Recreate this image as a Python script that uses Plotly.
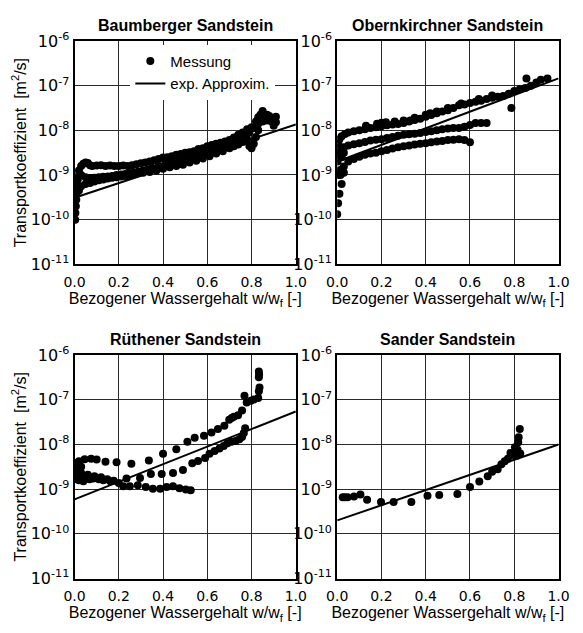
import plotly.graph_objects as go

# ---- Baumberger Sandstein: measured transport coefficients ----
baum_w = [0.000, 0.000, 0.002, 0.003, 0.004, 0.005, 0.006, 0.008, 0.010, 0.012, 0.015,
          # upper branch
          0.005, 0.01, 0.02, 0.03, 0.04, 0.05, 0.06, 0.07, 0.08, 0.10, 0.12, 0.14, 0.16, 0.18,
          0.20, 0.22, 0.24, 0.26, 0.28, 0.30, 0.32, 0.34, 0.36, 0.38, 0.40, 0.42, 0.44, 0.46,
          0.48, 0.50, 0.52, 0.54, 0.56, 0.58, 0.60, 0.62, 0.64, 0.66, 0.68, 0.70, 0.72, 0.74,
          0.76, 0.78, 0.80, 0.82, 0.83, 0.84, 0.85, 0.86, 0.87, 0.88, 0.89, 0.90, 0.91, 0.91,
          # middle branch
          0.03, 0.05, 0.07, 0.09, 0.11, 0.13, 0.15, 0.17, 0.19, 0.21, 0.23, 0.25, 0.27, 0.29,
          0.31, 0.33, 0.35, 0.38, 0.41, 0.44, 0.47, 0.50, 0.53, 0.56, 0.59, 0.62, 0.65, 0.68,
          0.71, 0.74, 0.77, 0.79, 0.81, 0.83, 0.85, 0.87, 0.89, 0.90,
          # lower branch
          0.02, 0.03, 0.05, 0.07, 0.09, 0.11, 0.13, 0.15, 0.17, 0.19, 0.21, 0.23, 0.25, 0.27,
          0.29, 0.31, 0.34, 0.37, 0.40, 0.43, 0.46, 0.49, 0.52, 0.55, 0.58, 0.61, 0.64, 0.67,
          0.70, 0.72, 0.74, 0.76, 0.78, 0.79, 0.80, 0.81, 0.82, 0.83]
baum_d = [6.3e-10, 5.6e-10, 4.5e-10, 1.0e-10, 1.41e-10, 8.9e-10, 2.0e-10, 2.8e-10, 4.0e-10, 5.6e-10, 7.9e-10,
          5.0e-10, 7.9e-10, 1.26e-9, 1.58e-9, 1.78e-9, 1.9e-9, 1.86e-9, 1.66e-9, 1.58e-9, 1.62e-9, 1.66e-9, 1.58e-9, 1.62e-9, 1.58e-9,
          1.58e-9, 1.62e-9, 1.58e-9, 1.66e-9, 1.74e-9, 1.82e-9, 1.9e-9, 2.0e-9, 2.14e-9, 2.29e-9, 2.45e-9, 2.5e-9, 2.63e-9, 2.82e-9,
          2.95e-9, 3.16e-9, 3.24e-9, 3.39e-9, 3.8e-9, 3.98e-9, 4.37e-9, 4.68e-9, 5.0e-9, 5.25e-9, 5.62e-9, 6.03e-9, 6.92e-9, 7.94e-9,
          8.91e-9, 1.05e-8, 1.17e-8, 1.58e-8, 1.95e-8, 2.24e-8, 2.69e-8, 2.09e-8, 2.24e-8, 2.09e-8, 1.91e-8, 1.78e-8, 2.0e-8, 1.51e-8,
          1.0e-9, 8.9e-10, 8.5e-10, 8.7e-10, 8.9e-10, 9.1e-10, 9.3e-10, 9.5e-10, 1.0e-9, 1.02e-9, 1.05e-9, 1.1e-9, 1.15e-9, 1.2e-9,
          1.26e-9, 1.32e-9, 1.45e-9, 1.58e-9, 1.78e-9, 1.95e-9, 2.09e-9, 2.29e-9, 2.51e-9, 2.82e-9, 3.16e-9, 3.55e-9, 4.17e-9, 4.68e-9,
          5.37e-9, 6.31e-9, 7.94e-9, 8.91e-9, 1.12e-8, 1.41e-8, 1.58e-8, 1.66e-8, 1.58e-8, 1.26e-8,
          4.5e-10, 5.6e-10, 6.3e-10, 6.6e-10, 7.1e-10, 7.6e-10, 7.9e-10, 8.3e-10, 8.7e-10, 8.9e-10, 9.3e-10, 9.5e-10, 1.0e-9, 1.05e-9,
          1.1e-9, 1.12e-9, 1.17e-9, 1.26e-9, 1.38e-9, 1.48e-9, 1.58e-9, 1.7e-9, 1.91e-9, 2.09e-9, 2.34e-9, 2.63e-9, 3.02e-9, 3.39e-9,
          3.98e-9, 4.37e-9, 4.79e-9, 5.5e-9, 6.31e-9, 4.47e-9, 3.98e-9, 5.0e-9, 7.08e-9, 1.0e-8]
baum_fit_w = [0.0, 1.0]
baum_fit_d = [3.1e-10, 1.35e-8]

# ---- Obernkirchner Sandstein ----
obern_w = [0.000, 0.004, 0.010, 0.020, 0.005, 0.003, 0.002, 0.004, 0.006, 0.015, 0.03, 0.02, 0.03,
           # upper branch
           0.005, 0.01, 0.02, 0.035, 0.05, 0.075, 0.10, 0.125, 0.15, 0.175, 0.20, 0.225, 0.25, 0.275,
           0.30, 0.325, 0.35, 0.375, 0.40, 0.425, 0.45, 0.475, 0.50, 0.525, 0.55, 0.575, 0.60, 0.625,
           0.65, 0.675, 0.70, 0.725, 0.75, 0.775, 0.787, 0.80, 0.825, 0.85, 0.855, 0.875, 0.90, 0.92, 0.95,
           0.20, 0.26, 0.33, 0.40, 0.45,
           0.13, 0.18, 0.22, 0.30, 0.35, 0.42, 0.50, 0.56, 0.64, 0.70,
           # middle branch
           0.01, 0.03, 0.05, 0.075, 0.10, 0.125, 0.15, 0.175, 0.20, 0.225, 0.25, 0.275, 0.30, 0.325,
           0.35, 0.375, 0.40, 0.425, 0.45, 0.475, 0.50, 0.525, 0.55, 0.575, 0.60, 0.625, 0.65, 0.675,
           # lower branch
           0.01, 0.02, 0.03, 0.05, 0.075, 0.10, 0.125, 0.15, 0.175, 0.20, 0.225, 0.25, 0.275, 0.30,
           0.325, 0.35, 0.375, 0.40, 0.425, 0.45, 0.475, 0.50, 0.525, 0.55, 0.575, 0.60]
obern_d = [1.32e-10, 2.34e-10, 3.8e-10, 6.3e-10, 1.0e-9, 1.26e-9, 2.0e-9, 3.16e-9, 3.98e-9, 1.0e-9, 1.12e-9, 2.5e-9, 3.16e-9,
           5.0e-9, 6.3e-9, 7.4e-9, 8.3e-9, 8.9e-9, 9.5e-9, 1.0e-8, 1.05e-8, 1.12e-8, 1.17e-8, 1.23e-8, 1.29e-8, 1.35e-8, 1.38e-8,
           1.45e-8, 1.58e-8, 1.7e-8, 1.82e-8, 2.0e-8, 2.19e-8, 2.4e-8, 2.63e-8, 2.82e-8, 3.16e-8, 3.63e-8, 3.8e-8, 4.07e-8, 4.37e-8,
           4.57e-8, 5.0e-8, 5.37e-8, 5.62e-8, 5.89e-8, 6.61e-8, 3.16e-8, 7.59e-8, 8.3e-8, 8.91e-8, 1.45e-7, 1.0e-7, 1.17e-7, 1.35e-7, 1.45e-7,
           1.48e-8, 1.58e-8, 1.66e-8, 2.24e-8, 2.63e-8,
           1.26e-8, 1.41e-8, 1.51e-8, 1.66e-8, 1.91e-8, 2.4e-8, 3.16e-8, 4.0e-8, 5.0e-8, 6.0e-8,
           2.82e-9, 4.17e-9, 4.57e-9, 4.9e-9, 5.13e-9, 5.5e-9, 5.89e-9, 6.17e-9, 6.31e-9, 6.76e-9, 7.08e-9, 7.59e-9, 7.94e-9, 8.13e-9,
           8.32e-9, 8.71e-9, 9.12e-9, 9.55e-9, 1.0e-8, 1.05e-8, 1.1e-8, 1.12e-8, 1.12e-8, 1.2e-8, 1.32e-8, 1.45e-8, 1.45e-8, 1.45e-8,
           1.12e-9, 1.32e-9, 1.55e-9, 2.0e-9, 2.29e-9, 2.57e-9, 2.82e-9, 3.02e-9, 3.16e-9, 3.39e-9, 3.63e-9, 3.89e-9, 4.17e-9, 4.37e-9,
           4.57e-9, 4.79e-9, 5.0e-9, 5.13e-9, 5.37e-9, 5.62e-9, 5.75e-9, 6.03e-9, 6.17e-9, 6.31e-9, 6.03e-9, 5.37e-9]
obern_fit_w = [0.0, 1.0]
obern_fit_d = [2.0e-9, 1.45e-7]

# ---- Rüthener Sandstein ----
rueth_w = [  # upper branch
           0.003, 0.02, 0.046, 0.075, 0.10, 0.14, 0.19, 0.257, 0.336, 0.40, 0.46, 0.51, 0.543, 0.585,
           0.619, 0.648, 0.677, 0.699, 0.71, 0.72, 0.739, 0.757, 0.768, 0.778, 0.797, 0.81, 0.83, 0.833,
           0.836, 0.833, 0.833, 0.834,
           # middle branch
           0.003, 0.03, 0.06, 0.09, 0.12, 0.148, 0.177, 0.20, 0.235, 0.296, 0.345, 0.394, 0.445, 0.49,
           0.532, 0.558, 0.59, 0.61, 0.633, 0.655, 0.674, 0.691, 0.709, 0.728, 0.745, 0.757, 0.765, 0.771,
           # lower branch
           0.01, 0.04, 0.068, 0.162, 0.22, 0.25, 0.286, 0.322, 0.354, 0.387, 0.416, 0.445, 0.474, 0.503, 0.525,
           # dense start region
           0.005, 0.01, 0.015, 0.02, 0.008, 0.03, 0.045, 0.085, 0.11, 0.13]
rueth_d = [3.8e-9, 4.2e-9, 4.7e-9, 4.8e-9, 4.6e-9, 4.1e-9, 4.0e-9, 3.7e-9, 4.4e-9, 6.2e-9, 7.8e-9, 1.15e-8, 1.41e-8, 1.58e-8,
           1.86e-8, 2.24e-8, 2.63e-8, 3.6e-8, 3.9e-8, 4.2e-8, 4.5e-8, 5.8e-8, 1.23e-7, 8.7e-8, 9.5e-8, 1.02e-7, 1.1e-7, 1.55e-7,
           1.9e-7, 3.2e-7, 4.3e-7, 3.7e-7,
           1.78e-9, 2.3e-9, 2.1e-9, 1.95e-9, 1.86e-9, 1.66e-9, 1.55e-9, 1.38e-9, 1.74e-9, 1.78e-9, 2.2e-9, 2.2e-9, 2.3e-9, 2.7e-9,
           3.8e-9, 4.3e-9, 5.0e-9, 6.2e-9, 7.2e-9, 8.1e-9, 9.3e-9, 1.07e-8, 1.15e-8, 1.2e-8, 1.32e-8, 1.48e-8, 1.82e-8, 2.3e-8,
           1.66e-9, 1.51e-9, 1.66e-9, 1.51e-9, 1.17e-9, 1.17e-9, 1.23e-9, 1.12e-9, 1.02e-9, 1.02e-9, 1.12e-9, 1.17e-9, 1.05e-9, 9.8e-10, 9.5e-10,
           2.8e-9, 2.5e-9, 2.0e-9, 1.58e-9, 3.3e-9, 3.2e-9, 1.9e-9, 1.74e-9, 1.66e-9, 1.58e-9]
rueth_fit_w = [0.0, 1.0]
rueth_fit_d = [5.9e-10, 5.5e-8]

# ---- Sander Sandstein ----
sander_w = [0.025, 0.035, 0.047, 0.076, 0.105, 0.135, 0.198, 0.255, 0.335, 0.408, 0.461, 0.543, 0.600,
            0.642, 0.680, 0.700, 0.725, 0.742, 0.757, 0.771, 0.783, 0.795, 0.803, 0.808, 0.812, 0.815,
            0.818, 0.820, 0.825, 0.827]
sander_d = [6.6e-10, 6.6e-10, 6.6e-10, 6.9e-10, 7.6e-10, 5.8e-10, 5.2e-10, 5.2e-10, 5.2e-10, 7.1e-10, 7.4e-10, 7.8e-10, 1.12e-9,
            1.48e-9, 1.95e-9, 2.45e-9, 2.8e-9, 3.6e-9, 4.2e-9, 4.8e-9, 6.5e-9, 5.8e-9, 8.7e-9, 6.3e-9, 5.6e-9, 7.6e-9,
            1.12e-8, 1.45e-8, 2.24e-8, 6.3e-9]
sander_fit_w = [0.0, 1.0]
sander_fit_d = [2.0e-10, 1.0e-8]

panel_titles = ["Baumberger Sandstein", "Obernkirchner Sandstein",
                "Rüthener Sandstein", "Sander Sandstein"]
y_tickvals = [1e-11, 1e-10, 1e-9, 1e-8, 1e-7, 1e-6]
y_ticktext = ["10<sup>-11</sup>", "10<sup>-10</sup>", "10<sup>-9</sup>",
              "10<sup>-8</sup>", "10<sup>-7</sup>", "10<sup>-6</sup>"]
x_tickvals = [0.0, 0.2, 0.4, 0.6, 0.8, 1.0]
x_ticktext = ["0.0", "0.2", "0.4", "0.6", "0.8", "1.0"]

FONT = "Liberation Sans, Arial, Helvetica, sans-serif"
TICKFONT = "DejaVu Sans, Verdana, sans-serif"
W, H = 583, 633

# panel frames in pixels (left, right, top, bottom)
frames = [(66, 296, 31, 262), (339, 569, 31, 262),
          (66, 296, 356, 587), (339, 569, 356, 587)]

datasets = [(baum_w, baum_d, baum_fit_w, baum_fit_d),
            (obern_w, obern_d, obern_fit_w, obern_fit_d),
            (rueth_w, rueth_d, rueth_fit_w, rueth_fit_d),
            (sander_w, sander_d, sander_fit_w, sander_fit_d)]

fig = go.Figure()
layout = dict(
    width=W, height=H, autosize=False,
    margin=dict(l=0, r=0, t=0, b=0),
    paper_bgcolor="white", plot_bgcolor="white",
    font=dict(family=FONT, size=14, color="black"),
    showlegend=True,
    legend=dict(x=124 / W, y=1 - 35 / H, xanchor="left", yanchor="top",
                bgcolor="white", borderwidth=0, font=dict(size=15),
                tracegroupgap=0, itemwidth=30),
)

annotations = []
for i, ((l, r, t, b), (mw, md, fw, fd)) in enumerate(zip(frames, datasets)):
    n = "" if i == 0 else str(i + 1)
    xa, ya = "x" + n, "y" + n
    fig.add_trace(go.Scatter(
        x=mw, y=md, mode="markers", name="Messung", xaxis=xa, yaxis=ya,
        marker=dict(color="black", size=8, line=dict(width=0)),
        showlegend=(i == 0)))
    fig.add_trace(go.Scatter(
        x=fw, y=fd, mode="lines", name="exp. Approxim.", xaxis=xa, yaxis=ya,
        line=dict(color="black", width=2), showlegend=(i == 0)))

    axis_common = dict(showline=True, mirror=True, linecolor="black", linewidth=2,
                       showgrid=True, gridcolor="#2a2a2a", gridwidth=1,
                       zeroline=False, ticks="")
    layout["xaxis" + n] = dict(
        axis_common, domain=[l / W, r / W], anchor=ya, range=[0, 1],
        tickvals=x_tickvals, ticktext=x_ticktext, ticklabelstandoff=4,
        tickfont=dict(size=14, family=TICKFONT),
        title=dict(text="Bezogener Wassergehalt w/w<sub>f</sub> [-]",
                   font=dict(size=16), standoff=3))
    layout["yaxis" + n] = dict(
        axis_common, domain=[1 - b / H, 1 - t / H], anchor=xa, type="log",
        range=[-11, -6], tickvals=y_tickvals, ticktext=y_ticktext,
        tickfont=dict(size=16, family=TICKFONT))
    if i in (0, 2):
        layout["yaxis" + n]["title"] = dict(text="Transportkoeffizient  [m<sup>2</sup>/s]",
                                            font=dict(size=16), standoff=0)
    annotations.append(dict(
        text="<b>%s</b>" % panel_titles[i], xref="paper", yref="paper",
        x=(l + r) / 2 / W, y=1 - (t - 16) / H, xanchor="center", yanchor="middle",
        showarrow=False, font=dict(size=16, family=FONT)))

layout["annotations"] = annotations
fig.update_layout(**layout)
fig.write_html("out.html")
